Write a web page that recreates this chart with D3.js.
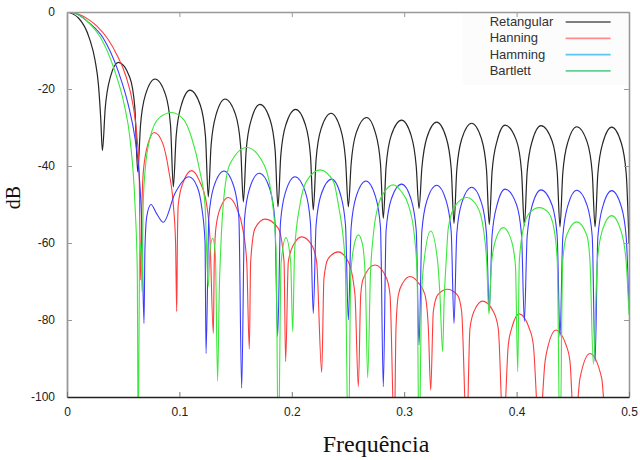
<!DOCTYPE html>
<html>
<head>
<meta charset="utf-8">
<script src="https://cdn.jsdelivr.net/npm/d3@7"></script>
<style>
body { margin: 0; background: #fff; }
</style>
</head>
<body>
<div id="chart"></div>
<script>
// tick values
const xTicks = [0, 0.1, 0.2, 0.3, 0.4, 0.5];
const yTicks = [0, -20, -40, -60, -80, -100];

// [frequencia, dB]
const retangular = [
  [0,0],[0.01,-1.5],[0.02,-6.9],[0.025,-12.6],[0.028,-19],[0.03,-27.6],[0.0315,-36],
  [0.034,-25],[0.0385,-17],[0.0457,-13.1],[0.0559,-17],[0.0604,-25],[0.0629,-41.5],
  [0.0654,-29.4],[0.0699,-21.4],[0.0783,-17.4],[0.0876,-21.4],[0.0921,-29.4],[0.0946,-45.4],
  [0.0971,-32.3],[0.1016,-24.3],[0.1094,-20.3],[0.1187,-24.3],[0.1232,-32.3],[0.1257,-48],
  [0.1282,-34.6],[0.1327,-26.6],[0.1406,-22.6],[0.1499,-26.6],[0.1544,-34.6],[0.1569,-49.3],
  [0.1594,-36],[0.1639,-28],[0.1717,-24],[0.1807,-28],[0.1852,-36],[0.1877,-50.6],
  [0.1902,-37.3],[0.1947,-29.3],[0.2034,-25.3],[0.2121,-29.3],[0.2166,-37.3],[0.2191,-51.4],
  [0.2216,-38.3],[0.2261,-30.3],[0.2349,-26.3],[0.2433,-30.3],[0.2478,-38.3],[0.2503,-50.6],
  [0.2528,-39.4],[0.2573,-31.4],[0.2666,-27.4],[0.2744,-31.4],[0.2789,-39.4],[0.2814,-53.6],
  [0.2839,-40.1],[0.2884,-32.1],[0.2977,-28.1],[0.3062,-32.1],[0.3107,-40.1],[0.3132,-51],
  [0.3157,-40.6],[0.3202,-32.6],[0.3289,-28.6],[0.3373,-32.6],[0.3418,-40.6],[0.3443,-54.9],
  [0.3468,-40.9],[0.3513,-32.9],[0.36,-28.9],[0.3687,-32.9],[0.3732,-40.9],[0.3757,-55.2],
  [0.3782,-41.4],[0.3827,-33.4],[0.3897,-29.4],[0.3999,-33.4],[0.4044,-41.4],[0.4069,-55.5],
  [0.4094,-41.5],[0.4139,-33.5],[0.4217,-29.5],[0.4316,-33.5],[0.4361,-41.5],[0.4386,-55.8],
  [0.4411,-41.8],[0.4456,-33.8],[0.4535,-29.8],[0.4628,-33.8],[0.4673,-41.8],[0.4698,-55.8],
  [0.4723,-41.9],[0.4768,-33.9],[0.4846,-29.9],[0.493,-33.9],[0.4975,-41.9],[0.5,-60]
];

const hanning = [
  [0,0],[0.01,-0.5],[0.02,-2.1],[0.0264,-3.6],[0.0368,-7.2],[0.045,-11.5],[0.0522,-16.5],[0.059,-24.6],[0.062,-31.5],[0.0642,-42],[0.0655,-69.6],
  [0.0667,-50],[0.0679,-41.5],[0.0723,-34],[0.0777,-31.3],[0.085,-34],[0.0907,-41.5],[0.0946,-50.1],[0.0966,-60],[0.0976,-77.8],
  [0.0982,-60],[0.099,-50],[0.103,-44.5],[0.1109,-41.2],[0.118,-44],[0.1243,-50.1],[0.1272,-58.8],[0.1302,-83.5],
  [0.131,-65],[0.1325,-56],[0.137,-50.5],[0.1435,-48.2],[0.151,-51],[0.1563,-56.2],[0.1599,-64.9],[0.1622,-87.5],
  [0.1634,-64.9],[0.1673,-56.2],[0.1762,-53.8],[0.188,-56.2],[0.1931,-64.9],[0.1945,-90.8],
  [0.1969,-64.9],[0.2014,-60.5],[0.2088,-58.4],[0.2177,-60.5],[0.2221,-64.9],[0.2266,-93.6],
  [0.2286,-69.2],[0.2325,-64],[0.2414,-62.3],[0.2503,-64.9],[0.2562,-73.5],[0.2592,-97.3],
  [0.2613,-73.5],[0.2636,-69.2],[0.274,-65.7],[0.2844,-69.2],[0.2874,-73.5],[0.2912,-110],
  [0.2927,-82.2],[0.2948,-73.5],[0.2985,-70.5],[0.3052,-68.7],[0.313,-70.5],[0.3185,-73.5],[0.3215,-82.2],[0.3236,-98.2],
  [0.3259,-77.8],[0.3298,-73.5],[0.3384,-72],[0.3473,-73.5],[0.3511,-77.8],[0.3556,-110],
  [0.3585,-82.2],[0.3625,-77.5],[0.3698,-75.1],[0.3793,-77.8],[0.3837,-82.2],[0.3882,-110],
  [0.3926,-86.5],[0.3956,-82.2],[0.4024,-78.4],[0.4113,-82.2],[0.4149,-86.5],[0.4202,-110],
  [0.4253,-90.8],[0.4282,-86.5],[0.435,-82.6],[0.444,-86.5],[0.4475,-90.8],[0.4514,-110],
  [0.4564,-95.1],[0.4653,-88.7],[0.4757,-95.1],[0.4801,-110],[0.5,-115]
];

const hamming = [
  [0,0],[0.01,-0.7],[0.02,-2.9],[0.0323,-6.8],[0.0457,-15.5],[0.0546,-24.2],[0.0605,-32.8],[0.064,-41.5],[0.0665,-55],[0.0685,-80.9],
  [0.0693,-62],[0.071,-53],[0.0747,-50],[0.08,-52.5],[0.0857,-54.6],[0.0961,-47.1],[0.1085,-42.8],[0.116,-45.5],[0.1198,-50.6],[0.1228,-59.7],[0.1237,-88.7],
  [0.1262,-53.3],[0.1307,-45.3],[0.1397,-41.3],[0.1484,-45.3],[0.1529,-53.3],[0.1554,-97.7],
  [0.1579,-53.9],[0.1624,-45.9],[0.1711,-41.9],[0.1804,-45.9],[0.1849,-53.9],[0.1874,-84.3],
  [0.1899,-54.8],[0.1944,-46.8],[0.2028,-42.8],[0.2121,-46.8],[0.2166,-54.8],[0.2191,-78.3],
  [0.2216,-55.4],[0.2261,-47.4],[0.2355,-43.4],[0.2433,-47.4],[0.2478,-55.4],[0.2503,-80],
  [0.2528,-55.9],[0.2573,-47.9],[0.266,-43.9],[0.2744,-47.9],[0.2789,-55.9],[0.2814,-97.3],
  [0.2839,-56.7],[0.2884,-48.7],[0.2977,-44.7],[0.3062,-48.7],[0.3107,-56.7],[0.3132,-86.5],
  [0.3157,-57],[0.3202,-49],[0.3289,-45],[0.3373,-49],[0.3418,-57],[0.3443,-80.9],
  [0.3468,-57.5],[0.3513,-49.5],[0.36,-45.5],[0.3687,-49.5],[0.3732,-57.5],[0.3757,-77.6],
  [0.3782,-58],[0.3827,-50],[0.3897,-46],[0.3999,-50],[0.4044,-58],[0.4069,-80.4],
  [0.4094,-58.2],[0.4139,-50.2],[0.4217,-46.2],[0.4316,-50.2],[0.4361,-58.2],[0.4386,-84.3],
  [0.4411,-58.3],[0.4456,-50.3],[0.4535,-46.3],[0.4628,-50.3],[0.4673,-58.3],[0.4698,-90.8],
  [0.4723,-58.4],[0.4768,-50.4],[0.4846,-46.4],[0.493,-50.4],[0.4975,-58.4],[0.5,-77]
];

const bartlett = [
  [0,0],[0.01,-0.7],[0.02,-3],[0.0302,-6.8],[0.0427,-15.5],[0.051,-24.2],[0.056,-32.8],[0.0605,-50.1],[0.0625,-67],[0.0634,-115],
  [0.0645,-64],[0.0652,-60],[0.066,-63],[0.0668,-72.6],
  [0.0678,-50],[0.0694,-41.5],[0.0738,-32.8],[0.082,-27.5],[0.0931,-26.1],[0.104,-28],[0.111,-32.8],[0.1183,-41.5],[0.1228,-50.1],[0.1257,-71.3],
  [0.1272,-62],[0.1296,-58.8],[0.132,-63],[0.134,-95.8],
  [0.1355,-72],[0.137,-60],[0.139,-50],[0.145,-39.5],[0.1599,-35.2],[0.175,-39.5],[0.183,-50],[0.186,-62],[0.188,-115],
  [0.1905,-65],[0.1948,-58.6],[0.199,-65],[0.2008,-83],
  [0.2025,-62],[0.2073,-50],[0.213,-44],[0.2251,-41],[0.237,-44],[0.2414,-50],[0.2475,-65],[0.2503,-115],
  [0.2525,-68],[0.2555,-60.5],[0.2592,-57.9],[0.263,-60.5],[0.2655,-70],[0.2675,-95],
  [0.27,-68],[0.2725,-58],[0.277,-50.1],[0.283,-46.5],[0.2903,-44.9],[0.297,-46.5],[0.3037,-50.1],[0.309,-58],[0.3115,-68],[0.3132,-115],
  [0.3155,-73.5],[0.3176,-64.9],[0.3236,-56.9],[0.3298,-64.9],[0.3318,-73.5],[0.3342,-88.2],
  [0.3355,-75],[0.3373,-64.9],[0.3392,-56.2],[0.345,-50.5],[0.3556,-48.2],[0.365,-50.5],[0.3704,-56.2],[0.3734,-64.9],[0.3754,-78.5],
  [0.3775,-66],[0.381,-59.5],[0.3882,-56],[0.3955,-59.5],[0.399,-66],[0.401,-93.4],
  [0.4024,-64.9],[0.406,-56.2],[0.412,-52],[0.4202,-50.8],[0.428,-52],[0.4332,-56.2],[0.4362,-64.9],[0.4386,-115],
  [0.441,-64.9],[0.4445,-58],[0.4535,-54.5],[0.4625,-58],[0.4653,-64.9],[0.4683,-91.5],
  [0.4718,-64.9],[0.476,-57],[0.4846,-52.9],[0.493,-57],[0.4975,-65],[0.5,-78.7]
];

const seriesNames = ['Retangular', 'Hanning', 'Hamming', 'Bartlett'];
const seriesData = [retangular, hanning, hamming, bartlett];
const lineColors = ['#262626', '#ff3b3b', '#3b3bff', '#3be83b'];
const legendColors = ['#555555', '#ff8a8a', '#5cc4f0', '#62d193'];

let margin = { top: 12, right: 11, bottom: 63, left: 67 },
    width = 640 - margin.left - margin.right,
    height = 460 - margin.top - margin.bottom;

let svg = d3.select('#chart').append('svg')
    .attr('width', 640)
    .attr('height', 460)
    .style('display', 'block')
    .append('g')
    .attr('transform', `translate(${margin.left},${margin.top})`);

let x = d3.scaleLinear().domain([0, 0.5]).range([0, width]);
let y = d3.scaleLinear().domain([-100, 0]).range([height, 0]);

svg.append('clipPath').attr('id', 'plot-clip')
    .append('rect').attr('width', width).attr('height', height);

// legend box (drawn under the curves)
let legend = svg.append('g').attr('transform', `translate(${x(0.352)},1)`);
legend.append('rect')
    .attr('width', width - x(0.352) - 1).attr('height', 72)
    .attr('fill', '#fcfcfc');

// curves
let valueLine = d3.line()
    .x(d => x(d[0]))
    .y(d => y(d[1]))
    .curve(d3.curveMonotoneX);

let curves = svg.append('g').attr('clip-path', 'url(#plot-clip)');
seriesData.forEach((data, i) => {
    curves.append('path')
        .datum(data)
        .attr('fill', 'none')
        .attr('stroke', lineColors[i])
        .attr('stroke-width', i === 0 ? 1.2 : 1.1)
        .attr('stroke-linejoin', 'round')
        .attr('d', valueLine);
});

// axes (gnuplot style, ticks inside, mirrored)
const fmt = d => String(d);
let axisFont = g => g.selectAll('text')
    .attr('font-family', '"Liberation Sans", Arial, sans-serif')
    .attr('font-size', 12)
    .attr('fill', '#222');

svg.append('g')
    .call(d3.axisTop(x).tickValues(xTicks).tickSizeInner(-5).tickSizeOuter(0).tickFormat(''))
    .call(g => g.select('.domain').attr('stroke', '#999').attr('stroke-width', 1.6))
    .call(g => g.selectAll('.tick line').attr('stroke', '#999'));

svg.append('g')
    .attr('transform', `translate(${width},0)`)
    .call(d3.axisRight(y).tickValues(yTicks).tickSizeInner(-5).tickSizeOuter(0).tickFormat(''))
    .call(g => g.select('.domain').attr('stroke', '#999').attr('stroke-width', 1.6))
    .call(g => g.selectAll('.tick line').attr('stroke', '#999'));

svg.append('g')
    .call(d3.axisLeft(y).tickValues(yTicks).tickSizeInner(-5).tickSizeOuter(0).tickPadding(12).tickFormat(fmt))
    .call(g => g.select('.domain').attr('stroke', '#999').attr('stroke-width', 1.8))
    .call(g => g.selectAll('.tick line').attr('stroke', '#999'))
    .call(axisFont);

svg.append('g')
    .attr('transform', `translate(0,${height})`)
    .call(d3.axisBottom(x).tickValues(xTicks).tickSizeInner(-5).tickSizeOuter(0).tickPadding(10).tickFormat(fmt))
    .call(g => g.select('.domain').attr('stroke', '#222').attr('stroke-width', 1.6))
    .call(g => g.selectAll('.tick line').attr('stroke', '#777'))
    .call(axisFont);

// axis titles
svg.append('text')
    .attr('transform', `translate(${-47},${height / 2 - 7}) rotate(-90)`)
    .attr('text-anchor', 'middle')
    .attr('font-family', '"Liberation Serif", "Times New Roman", serif')
    .attr('font-size', 20)
    .attr('fill', '#111')
    .text('dB');

svg.append('text')
    .attr('x', width / 2 + 28)
    .attr('y', height + 55)
    .attr('text-anchor', 'middle')
    .attr('font-family', '"Liberation Serif", "Times New Roman", serif')
    .attr('font-size', 24)
    .attr('fill', '#111')
    .text('Frequência');

// legend entries
seriesNames.forEach((name, i) => {
    let row = legend.append('g').attr('transform', `translate(0,${13 + i * 16.3})`);
    row.append('text')
        .attr('x', 27)
        .attr('y', 0)
        .attr('font-family', '"Liberation Sans", Arial, sans-serif')
        .attr('font-size', 13)
        .attr('fill', '#333')
        .text(name);
    row.append('line')
        .attr('x1', 103).attr('x2', 148)
        .attr('y1', -4).attr('y2', -4)
        .attr('stroke', legendColors[i])
        .attr('stroke-width', i === 0 ? 1.3 : 1.8);
});
</script>
</body>
</html>
